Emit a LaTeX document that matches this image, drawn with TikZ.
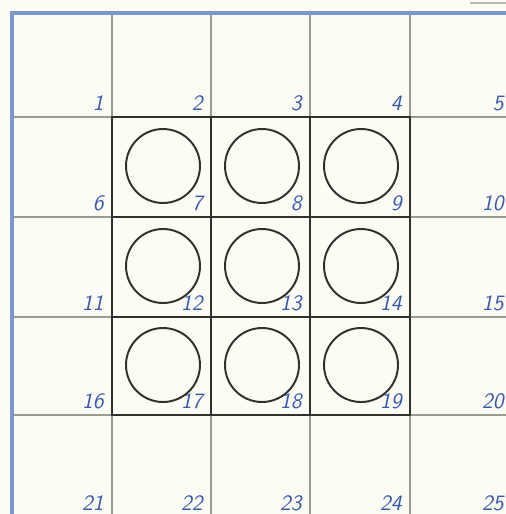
\documentclass[tikz,border=0pt]{standalone}
\usepackage{tikz}
\definecolor{paper}{RGB}{253,252,244}
\definecolor{pencilgray}{RGB}{155,155,145}
\definecolor{inkdark}{RGB}{45,50,45}
\definecolor{bluepen}{RGB}{55,90,175}
\definecolor{bluerule}{RGB}{125,150,205}
\begin{document}
\begin{tikzpicture}[x=0.02cm,y=-0.02cm,
  pencil/.style={pencilgray, line width=0.7pt},
  inkline/.style={inkdark, line width=1.4pt},
  hole/.style={circle, draw=inkdark, line width=1.1pt, inner sep=0pt, minimum size=1.48cm},
  num/.style={bluepen, font=\fontsize{12.5}{14}\sffamily\itshape, anchor=base east, inner sep=0pt}]
\fill[paper] (0,0) rectangle (506,514);
\useasboundingbox (0,0) rectangle (506,514);
\foreach \x in {112,211,310,410} \draw[pencil] (\x,13) -- (\x,514);
\foreach \y in {117,217,317,415} \draw[pencil] (12,\y) -- (506,\y);
\draw[pencil, pencilgray!70] (470,3) -- (506,3);
\draw[inkline] (112,117) rectangle (410,415);
\foreach \x in {211,310} \draw[inkline] (\x,117) -- (\x,415);
\foreach \y in {217,317} \draw[inkline] (112,\y) -- (410,\y);
\draw[bluerule, line width=2pt] (12,514) -- (12,13) -- (506,13);
\foreach \yb [count=\r from 0] in {117,217,317,415,517}
  \foreach \xr [count=\c from 0] in {112,211,310,410,512} {
    \pgfmathtruncatemacro{\n}{5*\r+\c+1}
    \node[num] (n\n) at (\xr-8,\yb-7) {\n};
  }
\foreach \cx/\cy/\k in {163/166/7, 262/166/8, 361/166/9, 163/266/12, 262/266/13, 361/266/14, 163/365/17, 262/365/18, 361/365/19}
  \node[hole] (c\k) at (\cx,\cy) {};
\end{tikzpicture}
\end{document}
